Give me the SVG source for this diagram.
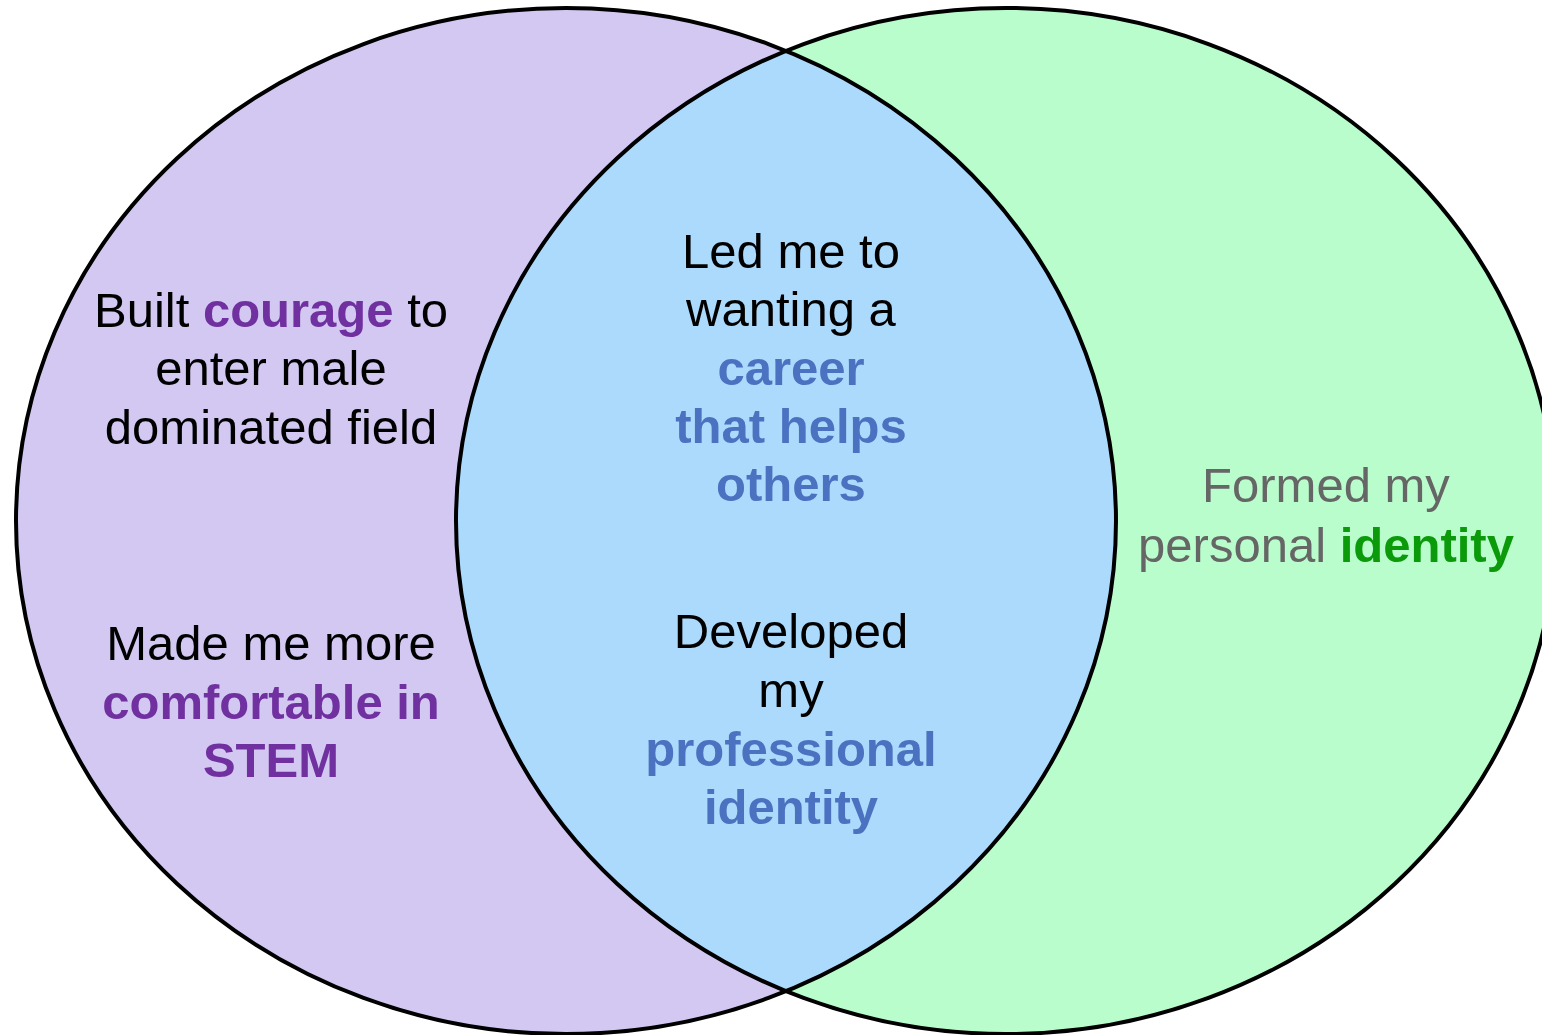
<svg xmlns="http://www.w3.org/2000/svg" width="1542" height="1035" viewBox="0 0 1542 1035">
  <style>
    text { font-family: "Liberation Sans", Arial, sans-serif; font-size: 49px; text-anchor: middle; }
    .b { font-weight: bold; }
    .ink { fill: #000000; }
    .grey { fill: #666666; }
    .purple { fill: #7030a0; }
    .blue { fill: #4a72c0; }
    .green { fill: #0a9a0a; }
    .ring { fill: none; stroke: #000000; stroke-width: 4; }
  </style>
  <defs>
    <ellipse id="leftShape" cx="566" cy="521" rx="550" ry="513"/>
    <ellipse id="rightShape" cx="1006" cy="521" rx="550" ry="513"/>
    <clipPath id="clipLeft">
      <use href="#leftShape"/>
    </clipPath>
  </defs>

  <rect x="0" y="0" width="1542" height="1035" fill="#ffffff"/>

  <!-- Left set -->
  <g id="set-left">
    <use href="#leftShape" fill="#d3c8f2"/>
  </g>

  <!-- Right set -->
  <g id="set-right">
    <use href="#rightShape" fill="#b8fdcb"/>
  </g>

  <!-- Overlap region -->
  <g id="set-overlap">
    <use href="#rightShape" fill="#acdafc" clip-path="url(#clipLeft)"/>
  </g>

  <!-- Outlines -->
  <g id="outlines">
    <use href="#leftShape" class="ring"/>
    <use href="#rightShape" class="ring"/>
  </g>

  <!-- Left set labels -->
  <g id="label-courage">
    <text x="271" y="327"><tspan class="ink">Built </tspan><tspan class="b purple">courage</tspan><tspan class="ink"> to</tspan></text>
    <text x="271" y="385" class="ink">enter male</text>
    <text x="271" y="444" class="ink">dominated field</text>
  </g>

  <g id="label-comfortable">
    <text x="271" y="660" class="ink">Made me more</text>
    <text x="271" y="719" class="b purple">comfortable in</text>
    <text x="271" y="777" class="b purple">STEM</text>
  </g>

  <!-- Overlap labels -->
  <g id="label-career">
    <text x="791" y="268" class="ink">Led me to</text>
    <text x="791" y="326" class="ink">wanting a</text>
    <text x="791" y="385" class="b blue">career</text>
    <text x="791" y="443" class="b blue">that helps</text>
    <text x="791" y="501" class="b blue">others</text>
  </g>

  <g id="label-professional">
    <text x="791" y="648" class="ink">Developed</text>
    <text x="791" y="707" class="ink">my</text>
    <text x="791" y="766" class="b blue">professional</text>
    <text x="791" y="824" class="b blue">identity</text>
  </g>

  <!-- Right set label -->
  <g id="label-personal">
    <text x="1326" y="502" class="grey">Formed my</text>
    <text x="1326" y="562"><tspan class="grey">personal </tspan><tspan class="b green">identity</tspan></text>
  </g>

  <g id="connectors"/>
</svg>
